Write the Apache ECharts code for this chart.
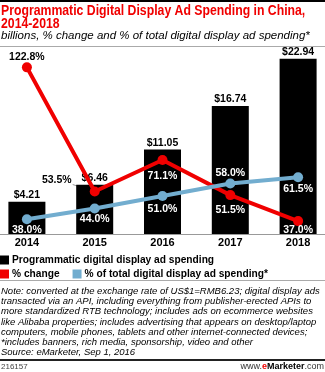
<!DOCTYPE html>
<html><head><meta charset="utf-8">
<script src="https://cdn.jsdelivr.net/npm/echarts@6/dist/echarts.min.js"></script>
<style>html,body{margin:0;padding:0;background:#fff;overflow:hidden;width:325px;height:372px}#c{width:339px;height:372px;margin-left:-7px}</style>
</head><body><div id="c"></div>
<script>
const years = ['2014', '2015', '2016', '2017', '2018'];
const spending = [4.21, 6.46, 11.05, 16.74, 22.94];
const pctChange = [122.8, 53.5, 71.1, 51.5, 37.0];
const pctOfTotal = [38.0, 44.0, 51.0, 58.0, 61.5];
const seriesNames = ['Programmatic digital display ad spending', '% change', '% of total digital display ad spending*'];
const titleLines = ['Programmatic Digital Display Ad Spending in China,', '2014-2018'];
const subtitle = 'billions, % change and % of total digital display ad spending*';
const noteLines = [
  'Note: converted at the exchange rate of US$1=RMB6.23; digital display ads',
  'transacted via an API, including everything from publisher-erected APIs to',
  'more standardized RTB technology; includes ads on ecommerce websites',
  'like Alibaba properties; includes advertising that appears on desktop/laptop',
  'computers, mobile phones, tablets and other internet-connected devices;',
  '*includes banners, rich media, sponsorship, video and other',
  'Source: eMarketer, Sep 1, 2016'
];
const chartId = '216157';

const OX = 7; // page offset of the chart container
const FONT = 'Liberation Sans, Arial, sans-serif';
const RED = '#f00000';
const BLUE = '#72adcf';
const LEADER_INDEX = 1; // the % change point whose label sits off to the left

const redLabel = [
  {position: 'top', distance: 0, color: '#000'},
  {position: 'left', distance: 4, color: '#000'},
  {position: 'bottom', distance: 6},
  {position: 'bottom', distance: 4},
  {position: 'bottom', distance: -1}
];
const blueLabel = [
  {position: 'bottom', distance: 0},
  {position: 'bottom', distance: 0},
  {position: 'bottom', distance: 2.5},
  {position: 'top', distance: 0},
  {position: 'bottom', distance: 1}
];
const lblBase = {show: true, fontFamily: FONT, fontWeight: 'bold', fontSize: 10.5, color: '#fff',
  formatter: p => p.value.toFixed(1) + '%'};

const chart = echarts.init(document.getElementById('c'), null, {renderer: 'canvas'});
const graphics = [];
graphics.push({type: 'rect', shape: {x: 0, y: 0, width: 339, height: 2}, style: {fill: '#000'}});
titleLines.forEach((t, i) => graphics.push({type: 'text', x: OX + 1, y: 4 + i * 12.8, scaleX: 0.875,
  style: {text: t, font: 'bold 14px ' + FONT, fill: RED, verticalAlign: 'top'}}));
graphics.push({type: 'text', x: OX + 1, y: 29.5, style: {text: subtitle, font: 'italic 11.5px ' + FONT, fill: '#000', verticalAlign: 'top'}});
graphics.push({type: 'rect', shape: {x: 0, y: 46, width: 339, height: 1}, style: {fill: '#aaa'}});
graphics.push({type: 'rect', shape: {x: 0, y: 280, width: 339, height: 1}, style: {fill: '#aaa'}});
noteLines.forEach((t, i) => graphics.push({type: 'text', x: OX + 1, y: 286 + i * 10.3,
  style: {text: t, font: 'italic 9.5px ' + FONT, fill: '#000', verticalAlign: 'top'}}));
graphics.push({type: 'rect', shape: {x: 0, y: 359, width: 339, height: 2}, style: {fill: '#222'}});
graphics.push({type: 'text', x: OX + 1, y: 363, style: {text: chartId, font: '8px ' + FONT, fill: '#444', verticalAlign: 'top'}});
graphics.push({type: 'text', right: OX + 1, top: 362, style: {
  text: '{a|www.}{b|e}{c|Marketer}{a|.com}',
  rich: {a: {font: '9px ' + FONT, fill: '#333'}, b: {font: 'bold 9px ' + FONT, fill: RED}, c: {font: 'bold 9px ' + FONT, fill: '#000'}}}});

const legendText = {fontFamily: FONT, fontWeight: 'bold', fontSize: 10.2, color: '#000', padding: [0, 0, 0, -2]};

chart.setOption({
  animation: false,
  grid: {left: 0, right: 0, top: 43, bottom: 138},
  legend: [
    {data: [{name: seriesNames[0], icon: 'rect'}], left: OX, top: 255, itemWidth: 9, itemHeight: 9, itemGap: 12,
     textStyle: legendText, padding: 0},
    {data: [{name: seriesNames[1], icon: 'rect'}, {name: seriesNames[2], icon: 'rect'}], left: OX, top: 269,
     itemWidth: 9, itemHeight: 9, itemGap: 13, textStyle: legendText, padding: 0}
  ],
  xAxis: {type: 'category', data: years, axisTick: {show: false},
    axisLine: {lineStyle: {color: '#999', width: 1}},
    axisLabel: {fontFamily: FONT, fontWeight: 'bold', fontSize: 11, color: '#000', margin: 3}},
  yAxis: [
    {type: 'value', min: 0, max: 25, show: false},
    {type: 'value', min: 29.8, max: 136.4, show: false}
  ],
  series: [
    {name: seriesNames[0], type: 'bar', data: spending, barWidth: 37, yAxisIndex: 0,
     itemStyle: {color: '#000'},
     label: {show: true, position: 'top', distance: 1, fontFamily: FONT, fontWeight: 'bold', fontSize: 10.5, color: '#000',
       formatter: p => '$' + p.value.toFixed(2)}},
    {type: 'custom', yAxisIndex: 1, z: 2, silent: true,
     data: [[LEADER_INDEX, pctChange[LEADER_INDEX]]],
     renderItem: (params, api) => {
       const p = api.coord([api.value(0), api.value(1)]);
       return {type: 'line', shape: {x1: p[0] - 22, y1: p[1] - 7, x2: p[0], y2: p[1]},
         style: {stroke: '#999', lineWidth: 1}};
     }},
    {name: seriesNames[1], type: 'line', yAxisIndex: 1, z: 3,
     data: pctChange.map((v, i) => ({value: v, label: redLabel[i]})),
     lineStyle: {color: RED, width: 4}, itemStyle: {color: RED}, symbol: 'circle', symbolSize: 10,
     label: lblBase,
     labelLayout: p => p.dataIndex === LEADER_INDEX ? {dx: -14, dy: -11} : {}},
    {name: seriesNames[2], type: 'line', yAxisIndex: 1, z: 4,
     data: pctOfTotal.map((v, i) => ({value: v, label: blueLabel[i]})),
     lineStyle: {color: BLUE, width: 4}, itemStyle: {color: BLUE}, symbol: 'circle', symbolSize: 10,
     label: lblBase}
  ],
  graphic: graphics
});
</script></body></html>
